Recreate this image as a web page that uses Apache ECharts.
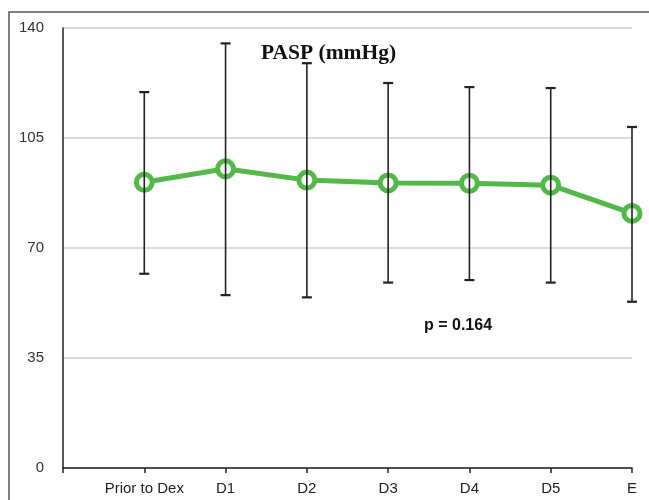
<!DOCTYPE html>
<html>
<head>
<meta charset="utf-8">
<script src="https://cdn.jsdelivr.net/npm/echarts@6/dist/echarts.min.js"></script>
<style>html,body{margin:0;padding:0;background:#fff;}#c{width:649px;height:500px;}</style>
</head>
<body>
<div id="c"></div>
<script>
const categories = ['Prior to Dex', 'D1', 'D2', 'D3', 'D4', 'D5', 'E'];
const means = [90.9, 95.2, 91.6, 90.7, 90.6, 90.0, 81.0];
const upper = [119.6, 135.1, 128.8, 122.5, 121.2, 120.9, 108.5];
const lower = [61.8, 55.0, 54.3, 59.0, 59.8, 59.0, 52.9];
const yTicks = [0, 35, 70, 105, 140];

const axisCats = [''].concat(categories);
const lineData = categories.map((c, i) => [c, means[i]]);
const errData = categories.map((c, i) => [c, lower[i], upper[i]]);

const chart = echarts.init(document.getElementById('c'), null, {renderer: 'canvas'});
chart.setOption({
  animation: false,
  backgroundColor: '#fff',
  title: {
    text: 'PASP (mmHg)',
    left: 256, top: 37,
    textStyle: {fontFamily: 'Liberation Serif', fontWeight: 'bold', fontSize: 21.5, color: '#111'}
  },
  graphic: [
    {type: 'rect', shape: {x: 9, y: 12, width: 800, height: 800}, style: {fill: 'none', stroke: '#555', lineWidth: 1.5}, silent: true, z: 100},
    {type: 'text', x: 458, y: 326, style: {text: 'p = 0.164', font: 'bold 16px "Liberation Sans", Arial', fill: '#111', textAlign: 'center', textVerticalAlign: 'middle'}, z: 100}
  ],
  grid: {left: 63, right: 17, top: 28, bottom: 32},
  xAxis: {
    type: 'category',
    data: axisCats,
    boundaryGap: false,
    axisLine: {lineStyle: {color: '#222', width: 1.5}},
    axisTick: {interval: 0, length: 5, lineStyle: {color: '#222', width: 1.5}},
    axisLabel: {interval: 0, margin: 13, color: '#222', fontSize: 15, fontFamily: 'Liberation Sans, Arial'},
    splitLine: {show: false}
  },
  yAxis: {
    type: 'value',
    min: yTicks[0], max: yTicks[yTicks.length - 1], interval: 35,
    axisLine: {show: true, lineStyle: {color: '#222', width: 1.5}},
    axisTick: {show: false},
    axisLabel: {margin: 19, color: '#333', fontSize: 15, fontFamily: 'Liberation Sans, Arial'},
    splitLine: {show: true, lineStyle: {color: '#cfcfcf', width: 1.5}}
  },
  series: [
    {
      type: 'line',
      data: lineData,
      z: 2,
      lineStyle: {color: '#52b847', width: 5},
      symbol: 'circle',
      symbolSize: 16,
      itemStyle: {color: '#fff', borderColor: '#52b847', borderWidth: 5}
    },
    {
      type: 'custom',
      z: 5,
      data: errData,
      renderItem: function (params, api) {
        const lo = api.coord([api.value(0), api.value(1)]);
        const hi = api.coord([api.value(0), api.value(2)]);
        const w = 5;
        const st = {stroke: '#222', lineWidth: 1.6};
        return {
          type: 'group',
          children: [
            {type: 'line', shape: {x1: hi[0], y1: hi[1], x2: lo[0], y2: lo[1]}, style: st},
            {type: 'line', shape: {x1: hi[0] - w, y1: hi[1], x2: hi[0] + w, y2: hi[1]}, style: {stroke: '#222', lineWidth: 2.2}},
            {type: 'line', shape: {x1: lo[0] - w, y1: lo[1], x2: lo[0] + w, y2: lo[1]}, style: {stroke: '#222', lineWidth: 2.2}}
          ]
        };
      }
    }
  ]
});
</script>
</body>
</html>
